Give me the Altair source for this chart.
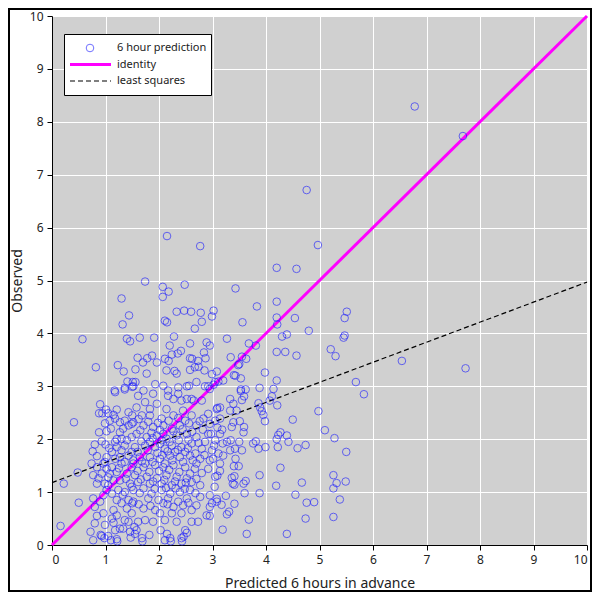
import altair as alt
import pandas as pd

# ---- data (predicted, observed) ----
outliers = [
    (6.78, 8.29), (7.68, 7.73), (4.76, 6.71), (2.15, 5.84), (2.77, 5.65), (4.97, 5.67),
    (4.20, 5.24), (4.57, 5.22), (6.54, 3.48), (7.73, 3.34), (5.83, 2.85), (5.68, 3.08),
]

upper_left = [
    (1.74, 4.98), (2.07, 4.88), (2.48, 4.92), (2.18, 4.79), (2.07, 4.69), (1.30, 4.66), (1.44, 4.34),
    (1.32, 4.17), (2.33, 4.41), (2.47, 4.43), (2.60, 4.41), (2.78, 4.39), (3.02, 4.43), (2.99, 4.32),
    (2.80, 4.22), (2.67, 4.09), (2.11, 4.24), (2.15, 4.21), (0.57, 3.89), (1.40, 3.90), (1.46, 3.85),
    (1.64, 3.92), (1.91, 3.92), (2.28, 3.94), (2.58, 3.81), (2.89, 3.83), (2.95, 3.77), (2.20, 3.77),
    (2.41, 3.67), (2.35, 3.62), (2.24, 3.60), (1.87, 3.58), (1.78, 3.53), (1.60, 3.54), (1.70, 3.45),
    (1.96, 3.45), (2.11, 3.52), (2.18, 3.48), (2.58, 3.53), (2.62, 3.52), (2.73, 3.48), (2.87, 3.53),
    (2.84, 3.64), (0.82, 3.36), (1.23, 3.40), (1.34, 3.28), (1.56, 3.32), (1.77, 3.24), (2.14, 3.30),
    (2.29, 3.29), (2.33, 3.24), (2.58, 3.31), (2.67, 3.36), (2.74, 3.37), (2.85, 3.30), (2.99, 3.23),
    (3.08, 3.28), (1.41, 3.09), (1.56, 3.08), (1.93, 3.04), (1.36, 2.97), (1.52, 3.00), (1.17, 2.92),
    (2.52, 3.00), (2.56, 3.01), (2.86, 3.00), (2.92, 3.00), (3.02, 3.03),
]

right_middle = [
    (3.43, 4.85), (3.83, 4.51), (4.20, 4.60), (4.20, 4.30), (4.21, 4.17), (4.54, 4.29), (3.56, 4.21),
    (5.51, 4.41), (5.47, 4.29), (5.47, 3.96), (5.45, 3.92), (4.30, 3.94), (4.39, 3.98), (4.80, 4.05),
    (3.27, 3.90), (3.68, 3.81), (3.81, 3.77), (4.20, 3.65), (4.36, 3.65), (4.57, 3.58), (5.21, 3.70),
    (5.30, 3.57), (3.34, 3.55), (3.55, 3.56), (3.63, 3.52), (3.50, 3.42), (3.48, 3.40), (3.98, 3.26),
    (3.40, 3.21), (3.43, 3.20), (3.53, 3.15), (3.20, 3.11), (3.11, 3.09), (4.20, 3.11), (3.88, 2.97),
    (4.14, 2.95), (3.53, 2.94), (3.62, 2.94),
]

right_lower = [
    (4.98, 2.53), (4.50, 2.37), (5.10, 2.17), (5.28, 2.02), (5.50, 1.76), (4.27, 2.13), (4.23, 2.08),
    (4.39, 2.07), (4.20, 2.00), (4.42, 1.95), (4.22, 1.85), (4.59, 1.83), (4.74, 1.89), (3.99, 1.85),
    (3.86, 1.82), (3.76, 1.92), (3.81, 1.96), (4.27, 1.46), (3.88, 1.32), (4.19, 1.12), (4.67, 1.18),
    (4.55, 0.95), (4.76, 0.80), (4.90, 0.81), (5.26, 1.32), (5.32, 1.17), (5.26, 1.07), (5.49, 1.20),
    (5.38, 0.86), (4.74, 0.50), (5.26, 0.53), (4.39, 0.21), (3.68, 0.48), (3.64, 0.21), (3.19, 0.29),
    (3.88, 0.98), (3.60, 0.98), (3.62, 1.21), (3.58, 1.16), (3.41, 1.14), (3.38, 1.16), (3.36, 1.27),
    (3.41, 1.30), (3.04, 1.10), (3.05, 1.29), (3.09, 1.31), (3.14, 1.40), (3.25, 0.93), (3.08, 0.87),
    (2.99, 0.79), (3.17, 0.76), (3.41, 0.78), (3.31, 0.63), (3.27, 0.58), (2.95, 0.55), (3.43, 1.63),
    (3.49, 1.49), (3.40, 1.49), (3.14, 1.54), (3.11, 1.73), (3.01, 1.63), (3.20, 1.69), (3.33, 1.79),
    (3.42, 1.82), (3.50, 1.95), (3.55, 1.79), (3.34, 1.98), (3.27, 1.95), (3.19, 1.92), (3.03, 1.88),
    (2.97, 2.10), (3.14, 2.10), (3.18, 2.18), (3.09, 2.22), (3.36, 2.23), (3.39, 2.32), (3.58, 2.13),
    (3.59, 2.23), (3.51, 2.34), (3.98, 2.34), (3.95, 2.46), (3.92, 2.53), (3.89, 2.60), (3.86, 2.68),
    (4.07, 2.73), (4.11, 2.81), (4.21, 2.64), (3.53, 2.91), (3.59, 2.81), (3.55, 2.74), (3.33, 2.76),
    (3.39, 2.67), (3.45, 2.54), (3.33, 2.54), (3.14, 2.60), (3.09, 2.59), (3.14, 2.39),
]

left_cluster = [
    (1.50, 2.99), (1.36, 2.94), (1.18, 2.89), (0.41, 2.32), (0.90, 2.66), (0.88, 2.49), (0.94, 2.49),
    (1.01, 2.56), (1.05, 2.49), (1.21, 2.56), (1.15, 2.46), (1.18, 2.39), (0.99, 2.30), (0.88, 2.13),
    (1.02, 2.15), (0.93, 1.96), (1.00, 1.90), (0.80, 1.90), (0.76, 1.77), (0.84, 1.68), (1.07, 1.83),
    (1.21, 2.00), (1.27, 2.13), (1.33, 2.20), (1.43, 2.26), (1.49, 2.29), (1.36, 1.88), (1.30, 1.79),
    (1.43, 1.69), (1.18, 1.63), (1.02, 1.66), (1.49, 2.04), (1.40, 1.98), (1.30, 2.01), (1.21, 1.85),
    (1.12, 1.76), (1.27, 1.66), (1.49, 1.76), (1.43, 2.51), (1.36, 2.35), (1.50, 2.45), (1.08, 2.35),
    (1.27, 2.32), (0.99, 1.57), (1.36, 1.57), (0.48, 1.37), (0.22, 1.16), (0.50, 0.80), (0.16, 0.36),
    (0.77, 0.09), (0.93, 0.17), (0.98, 0.13), (1.05, 0.17), (1.21, 0.11), (0.72, 0.25), (1.18, 0.28),
    (1.27, 0.31), (0.80, 0.41), (0.84, 0.55), (0.80, 0.72), (0.77, 0.88), (0.90, 0.82), (0.96, 0.94),
    (1.02, 1.04), (1.12, 0.97), (1.05, 1.13), (0.87, 1.26), (0.84, 1.16), (0.77, 1.32), (0.84, 1.47),
    (0.74, 1.54), (1.12, 1.47), (1.21, 1.38), (1.27, 1.22), (1.36, 1.00), (1.43, 0.85), (1.15, 0.66),
    (1.21, 0.56), (1.40, 0.69), (1.36, 0.47), (1.33, 0.31), (1.46, 0.25), (1.43, 0.44), (1.49, 0.60),
    (1.30, 0.79), (1.21, 0.85), (0.99, 1.16), (1.08, 1.35), (1.02, 1.44), (1.30, 1.54), (1.40, 1.35),
    (1.46, 1.16), (0.93, 1.35), (1.52, 1.04), (1.50, 0.79), (1.54, 0.34), (1.24, 1.04), (0.96, 0.60),
    (1.12, 0.50), (0.99, 0.38), (1.15, 1.22), (1.49, 1.47), (0.96, 1.54), (0.91, 0.19), (1.10, 0.09),
    (1.22, 0.07), (1.47, 0.14), (1.55, 0.21), (1.69, 0.07), (1.82, 0.19), (2.03, 0.28), (2.15, 0.21),
    (2.22, 0.07), (2.43, 0.07), (2.46, 0.16), (2.52, 0.23),
]

center_cluster = [
    (1.51, 3.08), (1.71, 2.92), (1.89, 2.86), (2.08, 3.01), (2.17, 2.92), (2.36, 2.98), (2.70, 3.08),
    (2.95, 2.95), (3.05, 3.08), (1.74, 2.70), (1.96, 2.67), (2.14, 2.57), (2.42, 2.73), (2.61, 2.76),
    (2.80, 2.73), (1.58, 2.60), (1.68, 2.45), (1.83, 2.45), (2.05, 2.39), (2.27, 2.45), (2.45, 2.54),
    (2.61, 2.45), (2.92, 2.48), (3.08, 2.57), (1.52, 2.32), (1.71, 2.26), (1.89, 2.23), (2.08, 2.26),
    (2.24, 2.20), (2.39, 2.26), (2.70, 2.26), (2.95, 2.29), (1.58, 2.10), (1.77, 2.04), (1.96, 2.07),
    (2.14, 2.01), (2.33, 2.07), (2.52, 2.10), (2.70, 2.04), (2.92, 2.10), (3.05, 1.98), (1.55, 1.85),
    (1.74, 1.88), (1.93, 1.85), (2.11, 1.82), (2.24, 1.88), (2.42, 1.85), (2.61, 1.92), (2.80, 1.82),
    (2.99, 1.79), (1.64, 1.66), (1.83, 1.66), (2.02, 1.63), (2.21, 1.69), (2.39, 1.66), (2.58, 1.69),
    (2.77, 1.63), (2.95, 1.60), (1.52, 1.60), (2.17, 2.82), (2.36, 2.86), (2.52, 2.76), (2.65, 2.73),
    (1.61, 2.82), (1.83, 2.57), (2.27, 2.76), (2.02, 2.17), (2.49, 2.35), (2.83, 2.39), (3.05, 2.35),
    (1.83, 1.95), (2.05, 1.98), (2.30, 1.76), (2.49, 1.76), (2.86, 1.95), (1.74, 1.54), (2.11, 1.54),
    (2.70, 1.54),
]

core_extra = [
    (1.62, 2.38), (1.80, 2.33), (1.98, 2.31), (2.18, 2.35), (2.36, 2.40), (2.56, 2.30), (2.76, 2.34),
    (1.65, 2.17), (1.86, 2.12), (2.08, 2.10), (2.27, 2.15), (2.44, 2.19), (2.62, 2.14), (2.82, 2.18),
    (1.67, 1.96), (1.88, 2.02), (2.02, 1.91), (2.20, 1.95), (2.37, 1.98), (2.55, 1.99), (2.74, 1.93),
    (1.60, 1.76), (1.79, 1.79), (1.97, 1.74), (2.16, 1.77), (2.35, 1.80), (2.54, 1.83), (2.68, 1.73),
    (1.68, 1.58), (1.88, 1.57), (2.06, 1.70), (2.25, 1.60), (2.45, 1.57), (2.63, 1.60), (2.85, 1.70),
    (1.60, 1.40), (1.82, 1.38), (2.00, 1.40), (2.19, 1.42), (2.38, 1.38), (2.58, 1.35), (2.80, 1.36),
    (1.66, 1.24), (1.89, 1.20), (2.10, 1.23), (2.30, 1.20), (2.50, 1.18), (2.70, 1.25),
    (1.64, 0.98), (1.92, 1.06), (2.13, 1.08), (2.31, 1.07), (2.48, 1.06), (2.68, 0.98),
    (1.62, 0.77), (1.84, 0.74), (2.16, 0.77), (2.36, 0.82), (2.55, 0.80),
    (1.18, 1.95), (1.10, 2.20), (1.25, 1.45), (1.38, 1.25), (1.05, 1.28), (1.32, 0.95), (1.15, 0.42),
]

lower_cluster = [
    (1.52, 1.54), (1.71, 1.47), (1.93, 1.51), (2.08, 1.47), (2.27, 1.51), (2.49, 1.47), (2.67, 1.44),
    (2.92, 1.44), (1.55, 1.32), (1.77, 1.29), (1.96, 1.26), (2.14, 1.32), (2.33, 1.29), (2.52, 1.26),
    (2.77, 1.13), (1.49, 1.10), (1.71, 1.07), (1.86, 0.97), (2.05, 1.04), (2.21, 0.97), (2.39, 1.00),
    (2.58, 1.04), (2.77, 0.91), (2.95, 0.94), (1.52, 0.82), (1.71, 0.69), (1.93, 0.66), (2.08, 0.79),
    (2.27, 0.72), (2.45, 0.75), (2.61, 0.66), (2.89, 0.56), (1.74, 0.47), (1.89, 0.44), (2.11, 0.47),
    (2.33, 0.44), (2.49, 0.28), (2.61, 0.44), (1.58, 0.28), (1.68, 0.13), (2.21, 0.13), (2.42, 0.13),
    (1.61, 1.19), (1.83, 1.16), (2.05, 1.16), (2.24, 1.13), (2.42, 1.16), (2.61, 1.19), (1.80, 0.88),
    (1.99, 0.85), (2.17, 0.88), (2.52, 0.88), (2.70, 0.75), (2.02, 0.60), (2.24, 0.60), (2.42, 0.60),
    (2.73, 0.44), (1.61, 0.44), (3.08, 0.82), (2.95, 0.72), (2.11, 0.09),
]

identity_x = [0, 10]
identity_y = [0, 10]
lsq_x = [0, 10]
lsq_y = [1.18, 4.97]

x_ticks = list(range(0, 11))
y_ticks = list(range(0, 11))
legend_labels = ["6 hour prediction", "identity", "least squares"]

points = (outliers + upper_left + right_middle + right_lower + left_cluster
          + center_cluster + core_extra + lower_cluster)
df = pd.DataFrame(points, columns=["pred", "obs"])
df_ident = pd.DataFrame({"pred": identity_x, "obs": identity_y})
df_lsq = pd.DataFrame({"pred": lsq_x, "obs": lsq_y})

FONT = "Noto Sans"
TXT = "#222222"
PT_COLOR = "#1a1aff"

xs = alt.Scale(domain=[0, 10], nice=False, zero=False)
ys = alt.Scale(domain=[0, 10], nice=False, zero=False)

x_axis = alt.Axis(values=x_ticks, title="Predicted 6 hours in advance", grid=True,
                  gridColor="white", gridWidth=1, domainColor="black", domainWidth=1,
                  tickColor="black", tickSize=5, labelFont=FONT, labelFontSize=12,
                  labelColor=TXT, labelPadding=4, titleFont=FONT, titleFontSize=14,
                  titleFontWeight="normal", titleColor=TXT, titlePadding=11)
y_axis = alt.Axis(values=y_ticks, title="Observed", grid=True,
                  gridColor="white", gridWidth=1, domainColor="black", domainWidth=1,
                  tickColor="black", tickSize=5, labelFont=FONT, labelFontSize=12,
                  labelColor=TXT, labelPadding=4, titleFont=FONT, titleFontSize=14,
                  titleFontWeight="normal", titleColor=TXT, titlePadding=5)

ident = alt.Chart(df_ident).mark_line(color="#ff00ff", strokeWidth=3).encode(
    x=alt.X("pred:Q", scale=xs, axis=x_axis),
    y=alt.Y("obs:Q", scale=ys, axis=y_axis),
)
lsq = alt.Chart(df_lsq).mark_line(color="black", strokeWidth=1.2, strokeDash=[5, 3]).encode(
    x=alt.X("pred:Q", scale=xs),
    y=alt.Y("obs:Q", scale=ys),
)
scatter = alt.Chart(df).mark_point(shape="circle", filled=False, color=PT_COLOR,
                                   opacity=0.62, size=58, strokeWidth=1).encode(
    x=alt.X("pred:Q", scale=xs),
    y=alt.Y("obs:Q", scale=ys),
)

one = pd.DataFrame({"k": [0]})
legend_box = alt.Chart(one).mark_rect(fill="white", stroke="black", strokeWidth=1).encode(
    x=alt.value(12.5), x2=alt.value(159.5), y=alt.value(18.5), y2=alt.value(79.5))
legend_pt = alt.Chart(one).mark_point(shape="circle", filled=False, color=PT_COLOR,
                                      opacity=0.62, size=58, strokeWidth=1).encode(
    x=alt.value(38), y=alt.value(32))
legend_ident = alt.Chart(one).mark_rule(color="#ff00ff", strokeWidth=3).encode(
    x=alt.value(18), x2=alt.value(59), y=alt.value(48.5))
legend_lsq = alt.Chart(one).mark_rule(color="black", strokeWidth=1.2, strokeDash=[5, 3]).encode(
    x=alt.value(18), x2=alt.value(59), y=alt.value(65))

legend_texts = []
for i, lab in enumerate(legend_labels):
    legend_texts.append(
        alt.Chart(pd.DataFrame({"label": [lab]})).mark_text(
            align="left", baseline="middle", font=FONT, fontSize=11, color=TXT
        ).encode(x=alt.value(65), y=alt.value([32, 48.5, 65][i]), text="label:N")
    )

frame = alt.Chart(one).mark_rect(fillOpacity=0, stroke="black", strokeWidth=2).encode(
    x=alt.value(-43), x2=alt.value(539), y=alt.value(-7), y2=alt.value(575))

chart = alt.layer(
    ident, lsq, scatter, legend_box, legend_pt, legend_ident, legend_lsq, *legend_texts, frame
).properties(
    width=535, height=529,
    autosize=alt.AutoSizeParams(type="none"),
    padding={"left": 44, "top": 8, "right": 5, "bottom": 47},
    background="white",
).configure_view(fill="#d0d0d0", stroke="transparent")

chart.save("out.html", embed_options={"renderer": "svg", "actions": False})
